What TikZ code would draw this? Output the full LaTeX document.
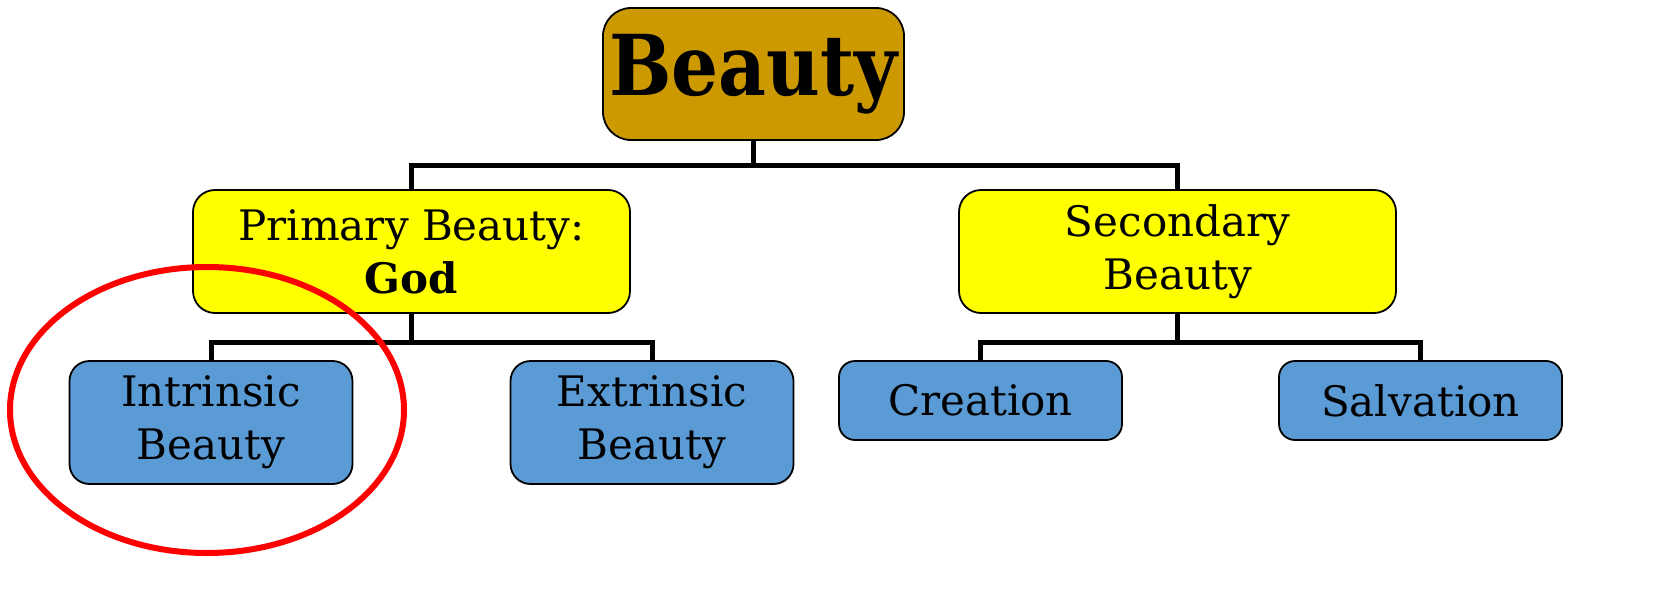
\documentclass[tikz,border=0pt]{standalone}
\usepackage{fontspec}
\setmainfont[FakeStretch=1.0]{DejaVu Serif}
\newfontfamily\bigbold[FakeStretch=0.88]{DejaVu Serif Bold}
\usetikzlibrary{positioning,shapes.geometric}
\definecolor{gold}{HTML}{CC9900}
\definecolor{yel}{HTML}{FFFF00}
\definecolor{blu}{HTML}{5B9BD5}
\definecolor{redc}{HTML}{FF0000}
\tikzset{
  box/.style={draw=black, line width=1.8pt, rounded corners=20pt, align=center, inner sep=0pt, font=\fontsize{42}{53}\selectfont},
  topbox/.style={box, fill=gold, rounded corners=28pt, minimum width=301pt, minimum height=132pt, font=\bigbold\fontsize{84}{90}\selectfont},
  midbox/.style={box, fill=yel, minimum width=437pt, minimum height=123pt, rounded corners=22pt},
  lowbox/.style={box, fill=blu, minimum width=283pt, minimum height=123pt},
  shortbox/.style={box, fill=blu, minimum width=283pt, minimum height=79pt, rounded corners=16pt},
  conn/.style={draw=black, line width=5pt},
  ring/.style={draw=redc, line width=6pt}
}
\begin{document}
\begin{tikzpicture}[x=1pt,y=-1pt]
\useasboundingbox (0,0) rectangle (1677,599);
\node[topbox] (beauty) at (753.5,74) {Beauty};
\node[midbox] (prim) at (411.5,251.5) {Primary Beauty:\\{\bfseries God}};
\node[midbox] (sec) at (1177.5,251.5) {Secondary\\Beauty};
\node[lowbox] (intr) at (211,422.5) {Intrinsic\\Beauty};
\node[lowbox] (extr) at (652,422.5) {Extrinsic\\Beauty};
\node[shortbox] (crea) at (980.5,400.5) {Creation};
\node[shortbox] (salv) at (1420.5,400.5) {Salvation};
\draw[conn] (beauty.south) -- ++(0,25) coordinate (j1);
\draw[conn] (j1) -| (prim.north);
\draw[conn] (j1) -| (sec.north);
\draw[conn] (prim.south) -- ++(0,29) coordinate (j2);
\draw[conn] (j2) -| (intr.north);
\draw[conn] (j2) -| (extr.north);
\draw[conn] (sec.south) -- ++(0,29) coordinate (j3);
\draw[conn] (j3) -| (crea.north);
\draw[conn] (j3) -| (salv.north);
\node[ring, ellipse, minimum width=394pt, minimum height=286pt, inner sep=0pt] (circ) at (207,410) {};
\end{tikzpicture}
\end{document}
